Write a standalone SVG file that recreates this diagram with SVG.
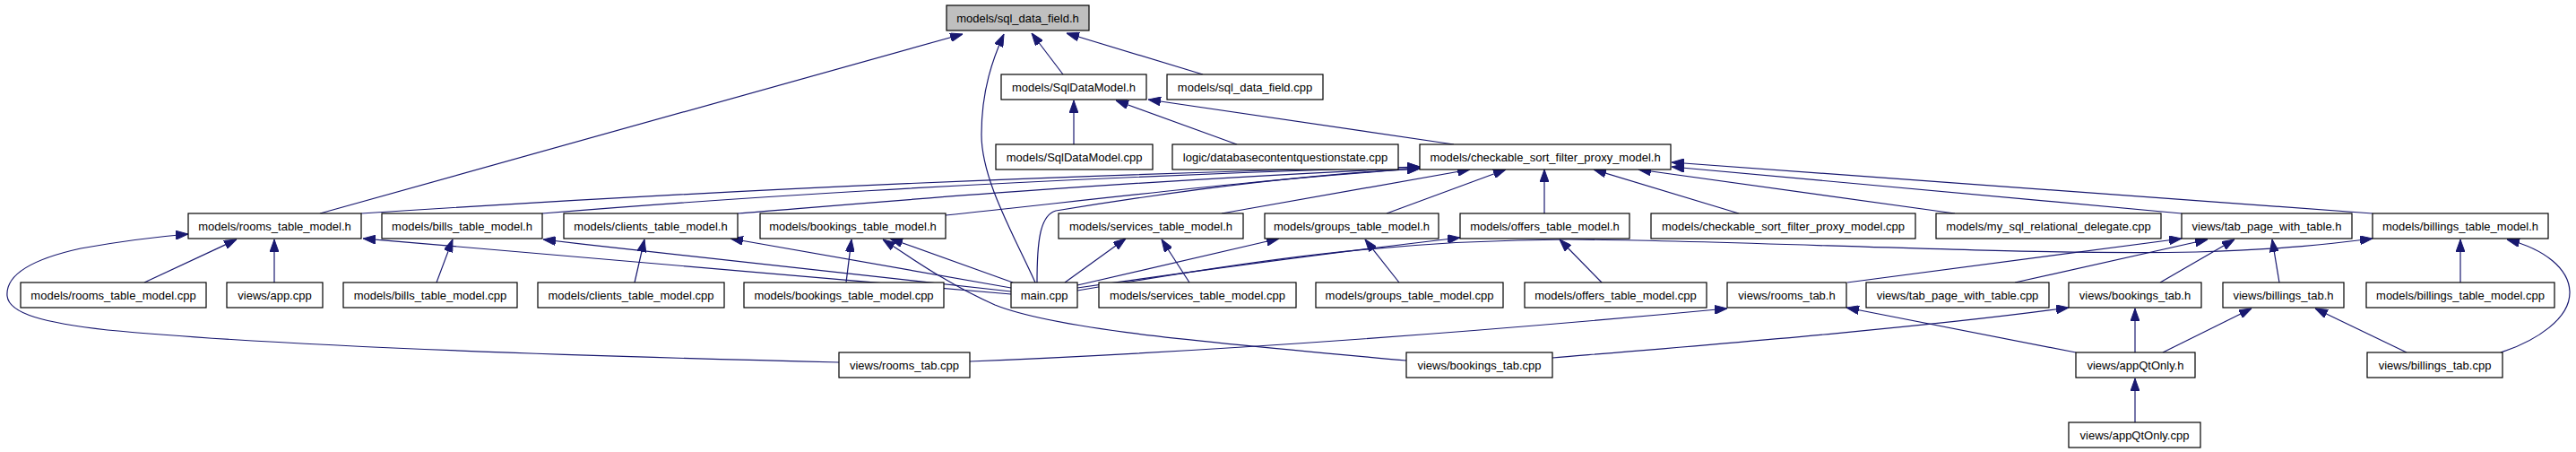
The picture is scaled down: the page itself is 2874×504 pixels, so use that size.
<svg xmlns="http://www.w3.org/2000/svg" width="2874" height="504" viewBox="0 0 2874 504">
<style>
.node rect{fill:#ffffff;stroke:#000000;stroke-width:1.2}
.node.root rect{fill:#bfbfbf}
.node text{font-family:"Liberation Sans",Arial,sans-serif;font-size:13px;fill:#000000;text-anchor:middle}
.edge path{fill:none;stroke:#191970;stroke-width:1.2;marker-end:url(#arr)}
</style>
<defs>
<marker id="arr" markerUnits="userSpaceOnUse" markerWidth="14" markerHeight="10" viewBox="0 0 14 10" refX="14" refY="5" orient="auto">
<path d="M0,0 L14,5 L0,10 Z" fill="#191970" stroke="#191970" stroke-width="1"/>
</marker>
</defs>
<rect width="2874" height="504" fill="#ffffff"/>
<g id="edges" class="edge">
<path d="M357,238 L1074,38"/>
<path d="M1155,315 C1130,260 1095,200 1095,150 C1095,100 1108,65 1120,38"/>
<path d="M1186,83 L1151,37"/>
<path d="M1342,83 L1190,37"/>
<path d="M1198,161 L1198,112"/>
<path d="M1380,161 L1245,112"/>
<path d="M1622,161 L1281,111"/>
<path d="M403,238 C650,222 1100,196 1584,186"/>
<path d="M605,238 C750,226 1100,200 1584,186"/>
<path d="M823,238 C950,228 1200,205 1584,187"/>
<path d="M1055,240 C1200,225 1400,200 1584,188"/>
<path d="M1157,315 C1157,270 1160,240 1178,235 C1300,215 1450,195 1584,188"/>
<path d="M1363,238 L1640,189"/>
<path d="M1547,238 L1680,189"/>
<path d="M1723,238 L1723,189"/>
<path d="M1940,238 L1778,189"/>
<path d="M2181,238 L1828,189"/>
<path d="M2434,238 L1865,186"/>
<path d="M2647,238 L1865,181"/>
<path d="M1128,328 C1000,315 700,290 405,266"/>
<path d="M1128,325 C1000,312 800,290 606,267"/>
<path d="M1128,321 L815,266"/>
<path d="M1130,315 L993,266"/>
<path d="M1188,315 L1256,266"/>
<path d="M1202,318 L1427,266"/>
<path d="M1202,321 C1350,300 1500,280 1629,265"/>
<path d="M1202,324 C1400,290 1550,268 1750,267 C1950,268 2250,285 2450,281 C2550,278 2600,272 2647,266"/>
<path d="M1569,402 C1350,382 1180,368 1110,340 C1060,318 1020,290 985,267"/>
<path d="M936,404 C600,396 300,385 120,368 C50,360 10,350 8,330 C6,305 40,288 90,277 C140,268 175,264 210,261"/>
<path d="M1082,403 C1350,392 1650,370 1927,344"/>
<path d="M1732,399 C1900,385 2150,365 2308,343"/>
<path d="M2316,393 L2060,343"/>
<path d="M2382,393 L2382,344"/>
<path d="M2413,393 L2512,344"/>
<path d="M2382,471 L2382,422"/>
<path d="M2685,393 L2583,344"/>
<path d="M2790,393 C2830,380 2868,355 2867,325 C2866,300 2840,278 2797,267"/>
<path d="M2061,315 L2434,266"/>
<path d="M2248,315 L2463,267"/>
<path d="M2410,315 L2493,267"/>
<path d="M2543,315 L2535,267"/>
<path d="M161,315 L264,267"/>
<path d="M306,315 L306,267"/>
<path d="M487,315 L505,267"/>
<path d="M708,315 L719,267"/>
<path d="M944,315 L950,267"/>
<path d="M1327,315 L1296,267"/>
<path d="M1561,315 L1523,267"/>
<path d="M1787,315 L1740,267"/>
<path d="M2745,315 L2745,267"/>
</g>
<g id="n_sql_data_field_h" class="node root"><rect x="1056" y="6" width="159" height="28"/><text x="1135.5" y="24.5">models/sql_data_field.h</text></g>
<g id="n_SqlDataModel_h" class="node"><rect x="1117" y="83" width="162" height="28"/><text x="1198" y="101.5">models/SqlDataModel.h</text></g>
<g id="n_sql_data_field_cpp" class="node"><rect x="1302" y="83" width="174" height="28"/><text x="1389" y="101.5">models/sql_data_field.cpp</text></g>
<g id="n_SqlDataModel_cpp" class="node"><rect x="1111" y="161" width="175" height="28"/><text x="1198.5" y="179.5">models/SqlDataModel.cpp</text></g>
<g id="n_dbcqs_cpp" class="node"><rect x="1308" y="161" width="252" height="28"/><text x="1434" y="179.5">logic/databasecontentquestionstate.cpp</text></g>
<g id="n_csfpm_h" class="node"><rect x="1584" y="161" width="280" height="28"/><text x="1724" y="179.5">models/checkable_sort_filter_proxy_model.h</text></g>
<g id="n_rooms_tm_h" class="node"><rect x="210" y="238" width="193" height="28"/><text x="306.5" y="256.5">models/rooms_table_model.h</text></g>
<g id="n_bills_tm_h" class="node"><rect x="426" y="238" width="179" height="28"/><text x="515.5" y="256.5">models/bills_table_model.h</text></g>
<g id="n_clients_tm_h" class="node"><rect x="629" y="238" width="194" height="28"/><text x="726" y="256.5">models/clients_table_model.h</text></g>
<g id="n_bookings_tm_h" class="node"><rect x="848" y="238" width="207" height="28"/><text x="951.5" y="256.5">models/bookings_table_model.h</text></g>
<g id="n_services_tm_h" class="node"><rect x="1181" y="238" width="206" height="28"/><text x="1284" y="256.5">models/services_table_model.h</text></g>
<g id="n_groups_tm_h" class="node"><rect x="1411" y="238" width="194" height="28"/><text x="1508" y="256.5">models/groups_table_model.h</text></g>
<g id="n_offers_tm_h" class="node"><rect x="1629" y="238" width="189" height="28"/><text x="1723.5" y="256.5">models/offers_table_model.h</text></g>
<g id="n_csfpm_cpp" class="node"><rect x="1842" y="238" width="295" height="28"/><text x="1989.5" y="256.5">models/checkable_sort_filter_proxy_model.cpp</text></g>
<g id="n_delegate_cpp" class="node"><rect x="2160" y="238" width="251" height="28"/><text x="2285.5" y="256.5">models/my_sql_relational_delegate.cpp</text></g>
<g id="n_tpwt_h" class="node"><rect x="2434" y="238" width="190" height="28"/><text x="2529" y="256.5">views/tab_page_with_table.h</text></g>
<g id="n_billings_tm_h" class="node"><rect x="2647" y="238" width="196" height="28"/><text x="2745" y="256.5">models/billings_table_model.h</text></g>
<g id="n_rooms_tm_cpp" class="node"><rect x="23" y="315" width="207" height="28"/><text x="126.5" y="333.5">models/rooms_table_model.cpp</text></g>
<g id="n_app_cpp" class="node"><rect x="253" y="315" width="107" height="28"/><text x="306.5" y="333.5">views/app.cpp</text></g>
<g id="n_bills_tm_cpp" class="node"><rect x="383" y="315" width="194" height="28"/><text x="480" y="333.5">models/bills_table_model.cpp</text></g>
<g id="n_clients_tm_cpp" class="node"><rect x="600" y="315" width="208" height="28"/><text x="704" y="333.5">models/clients_table_model.cpp</text></g>
<g id="n_bookings_tm_cpp" class="node"><rect x="830" y="315" width="223" height="28"/><text x="941.5" y="333.5">models/bookings_table_model.cpp</text></g>
<g id="n_main_cpp" class="node"><rect x="1128" y="315" width="74" height="28"/><text x="1165" y="333.5">main.cpp</text></g>
<g id="n_services_tm_cpp" class="node"><rect x="1226" y="315" width="220" height="28"/><text x="1336" y="333.5">models/services_table_model.cpp</text></g>
<g id="n_groups_tm_cpp" class="node"><rect x="1468" y="315" width="209" height="28"/><text x="1572.5" y="333.5">models/groups_table_model.cpp</text></g>
<g id="n_offers_tm_cpp" class="node"><rect x="1701" y="315" width="203" height="28"/><text x="1802.5" y="333.5">models/offers_table_model.cpp</text></g>
<g id="n_rooms_tab_h" class="node"><rect x="1927" y="315" width="133" height="28"/><text x="1993.5" y="333.5">views/rooms_tab.h</text></g>
<g id="n_tpwt_cpp" class="node"><rect x="2082" y="315" width="204" height="28"/><text x="2184" y="333.5">views/tab_page_with_table.cpp</text></g>
<g id="n_bookings_tab_h" class="node"><rect x="2308" y="315" width="148" height="28"/><text x="2382" y="333.5">views/bookings_tab.h</text></g>
<g id="n_billings_tab_h" class="node"><rect x="2480" y="315" width="135" height="28"/><text x="2547.5" y="333.5">views/billings_tab.h</text></g>
<g id="n_billings_tm_cpp" class="node"><rect x="2640" y="315" width="210" height="28"/><text x="2745" y="333.5">models/billings_table_model.cpp</text></g>
<g id="n_rooms_tab_cpp" class="node"><rect x="936" y="393" width="146" height="28"/><text x="1009" y="411.5">views/rooms_tab.cpp</text></g>
<g id="n_bookings_tab_cpp" class="node"><rect x="1569" y="393" width="163" height="28"/><text x="1650.5" y="411.5">views/bookings_tab.cpp</text></g>
<g id="n_appQtOnly_h" class="node"><rect x="2316" y="393" width="133" height="28"/><text x="2382.5" y="411.5">views/appQtOnly.h</text></g>
<g id="n_billings_tab_cpp" class="node"><rect x="2641" y="393" width="151" height="28"/><text x="2716.5" y="411.5">views/billings_tab.cpp</text></g>
<g id="n_appQtOnly_cpp" class="node"><rect x="2308" y="471" width="147" height="28"/><text x="2381.5" y="489.5">views/appQtOnly.cpp</text></g>
</svg>
